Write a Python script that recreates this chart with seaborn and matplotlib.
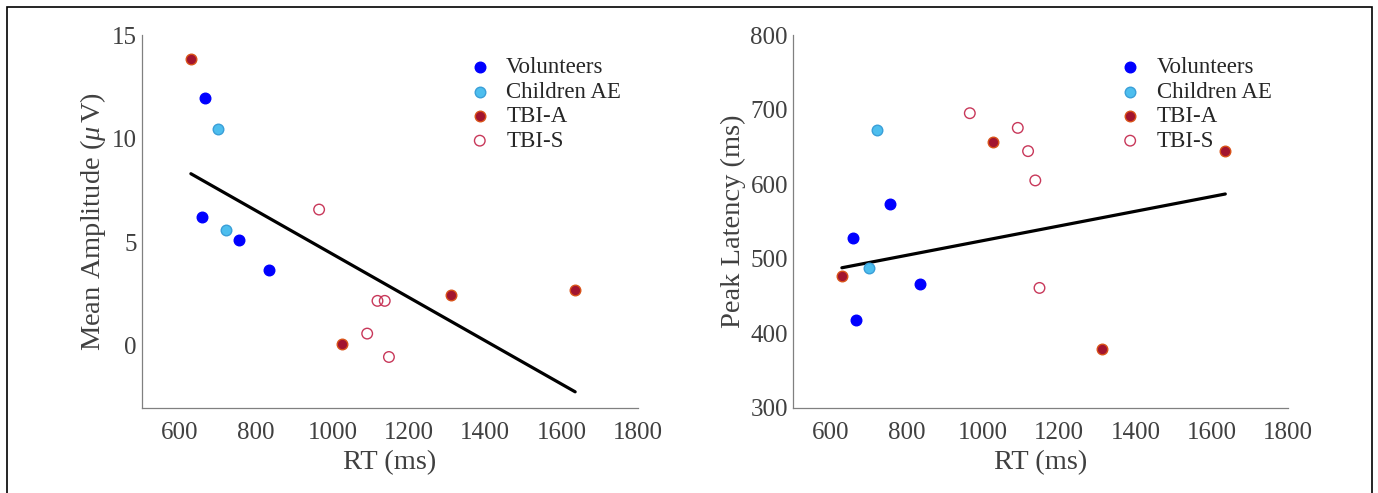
import pandas as pd
import seaborn as sns
import matplotlib.pyplot as plt
from matplotlib.patches import Rectangle

# values
rt = [629, 658, 665, 701, 721, 756, 833, 965, 1025, 1091, 1118, 1137, 1148, 1311, 1636]
group = ["TBI-A", "Volunteers", "Volunteers", "Children AE", "Children AE",
         "Volunteers", "Volunteers", "TBI-S", "TBI-A", "TBI-S", "TBI-S",
         "TBI-S", "TBI-S", "TBI-A", "TBI-A"]
amplitude = [13.84, 6.23, 11.97, 10.48, 5.57, 5.12, 3.64, 6.57, 0.08, 0.58,
             2.16, 2.16, -0.55, 2.46, 2.69]
latency = [476.3, 527.2, 417.4, 487.5, 671.9, 572.8, 466.5, 695.1, 655.8,
           675.4, 644.2, 604.9, 460.7, 378.6, 644.2]

# fitted lines as drawn in the picture (intercept, slope)
amp_fit = [14.88, -0.01046]
lat_fit = [425.9, 0.0983]

groups = ["Volunteers", "Children AE", "TBI-A", "TBI-S"]

df = pd.DataFrame({"RT": rt, "Group": group, "Amp": amplitude, "Lat": latency})

styles = {
    "Volunteers": dict(color="#0000ff", edgecolor="#0000ff"),
    "Children AE": dict(color="#4dbeee", edgecolor="#3a9fd8"),
    "TBI-A": dict(color="#a2142f", edgecolor="#d95319"),
    "TBI-S": dict(facecolor="none", edgecolor="#c8385a"),
}

sns.set_style("white")
plt.rcParams["font.family"] = ["Liberation Serif", "DejaVu Serif"]
plt.rcParams["mathtext.fontset"] = "custom"
plt.rcParams["mathtext.it"] = "Liberation Serif:italic"
plt.rcParams["mathtext.rm"] = "Liberation Serif"

fig = plt.figure(figsize=(13.78, 4.93), dpi=100)
ax1 = fig.add_axes([0.1028, 0.173, 0.36, 0.756])
ax2 = fig.add_axes([0.5753, 0.173, 0.3592, 0.756])

panels = [
    (ax1, "Amp", amp_fit, r"Mean Amplitude ($\mu\,$V)", (-3, 15), [0, 5, 10, 15]),
    (ax2, "Lat", lat_fit, "Peak Latency (ms)", (300, 800), [300, 400, 500, 600, 700, 800]),
]

for ax, col, fit, ylabel, ylim, yticks in panels:
    for g in groups:
        sub = df[df["Group"] == g]
        sns.scatterplot(x="RT", y=col, data=sub, ax=ax, s=58, linewidth=1.0,
                        label=g, zorder=3, **styles[g])
    xs = [df["RT"].min(), df["RT"].max()]
    ys = [fit[0] + fit[1] * x for x in xs]
    sns.lineplot(x=xs, y=ys, ax=ax, color="black", linewidth=2.3, zorder=2)

    ax.set_xlim(500, 1800)
    ax.set_ylim(*ylim)
    ax.set_xticks([600, 800, 1000, 1200, 1400, 1600, 1800])
    ax.set_yticks(yticks)
    ax.set_xlabel("RT (ms)", fontsize=20.5, color="#404040", labelpad=5)
    ax.set_ylabel(ylabel, fontsize=20.5, color="#404040", labelpad=3)
    ax.tick_params(direction="in", length=4, width=0.8, colors="#808080",
                   labelcolor="#404040", labelsize=18)
    ax.tick_params(axis="x", pad=10)
    for side in ["top", "right"]:
        ax.spines[side].set_visible(False)
    for side in ["left", "bottom"]:
        ax.spines[side].set_color("#808080")
        ax.spines[side].set_linewidth(0.9)
    ax.legend(loc="upper left", bbox_to_anchor=(0.64, 0.965), frameon=False,
              fontsize=16.5, handlelength=1.0, handletextpad=0.65,
              labelspacing=0.15, borderaxespad=0)

fig.patches.append(Rectangle((7 / 1378, -0.05), 1365 / 1378, 1.05 - 7 / 493,
                             transform=fig.transFigure, fill=False,
                             edgecolor="black", linewidth=1.2))

fig.savefig("out.png", dpi=100)
